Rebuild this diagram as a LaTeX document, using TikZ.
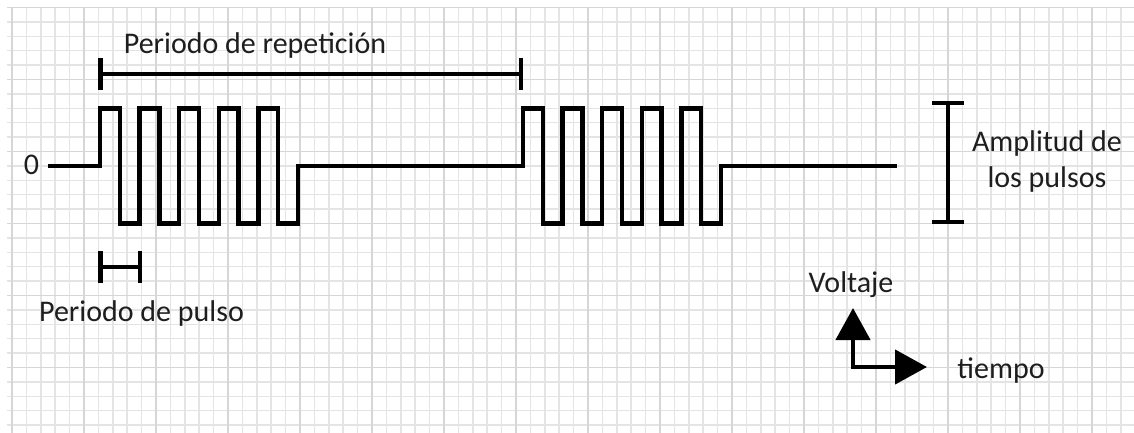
\documentclass[tikz,border=0pt]{standalone}
\usepackage{fontspec}
\setmainfont{Carlito}
\usetikzlibrary{arrows.meta}
\definecolor{gridminor}{RGB}{228,228,228}
\definecolor{gridmajor}{RGB}{214,214,214}
\definecolor{inkgray}{RGB}{30,30,30}

\begin{document}
\begin{tikzpicture}[x=1pt, y=-1pt,
    label text/.style={font=\fontsize{30}{36}\selectfont, text=inkgray, inner sep=0pt},
    signal/.style={line width=4.5pt, line join=miter},
    span bar/.style={line width=4.5pt, {Bar[width=32pt]}-{Bar[width=32pt]}},
    axis arrow/.style={line width=4.5pt, {Triangle[length=32pt, width=34pt]}-{Triangle[length=32pt, width=34pt]}}]

    \useasboundingbox (0,0) rectangle (1134,433);
    \fill[white] (0,0) rectangle (1134,433);

    % grid paper
    \foreach \i in {0,...,77}
        \draw[gridminor, line width=1.5pt] ({12+14.4*\i},7) -- ({12+14.4*\i},433);
    \foreach \j in {0,...,29}
        \draw[gridminor, line width=1.5pt] (7,{7.5+14.4*\j}) -- (1134,{7.5+14.4*\j});
    \foreach \i in {0,...,15}
        \draw[gridmajor, line width=1.5pt] ({12+72*\i},7) -- ({12+72*\i},433);
    \foreach \j in {0,...,5}
        \draw[gridmajor, line width=1.5pt] (7,{7.5+72*\j}) -- (1134,{7.5+72*\j});

    % pulse train
    \draw[signal] (48,166) -- (100,166)
        \foreach \k in {1,...,5}{ -- ++(0,-57.5) -- ++(19.8,0) -- ++(0,115) -- ++(19.8,0) -- ++(0,-57.5) }
        -- (523,166)
        \foreach \k in {1,...,5}{ -- ++(0,-57.5) -- ++(19.8,0) -- ++(0,115) -- ++(19.8,0) -- ++(0,-57.5) }
        -- (897,166);

    \node[label text, anchor=base] (zero) at (31.5,174) {0};

    % spans
    \coordinate (rep start) at (98,74);
    \coordinate (rep end) at (523,74);
    \draw[span bar] (rep start) -- (rep end);
    \node[label text, anchor=base] (rep label) at (255,54) {Periodo de repetición};

    \coordinate (pulse start) at (98,267);
    \coordinate (pulse end) at (142,267);
    \draw[span bar] (pulse start) -- (pulse end);
    \node[label text, anchor=base] (pulse label) at (141.5,321) {Periodo de pulso};

    \coordinate (amp top) at (948,101);
    \coordinate (amp bottom) at (948,224);
    \draw[span bar] (amp top) -- (amp bottom);
    \node[label text, align=center, anchor=center] (amp label) at (1047,162) {Amplitud de\\los pulsos};

    % axes
    \coordinate (volt tip) at (853,308);
    \coordinate (time tip) at (927,367);
    \draw[axis arrow] (volt tip) |- (time tip);
    \node[label text, anchor=base] (volt label) at (851,292) {Voltaje};
    \node[label text, anchor=base] (time label) at (1001,378) {tiempo};
\end{tikzpicture}
\end{document}
